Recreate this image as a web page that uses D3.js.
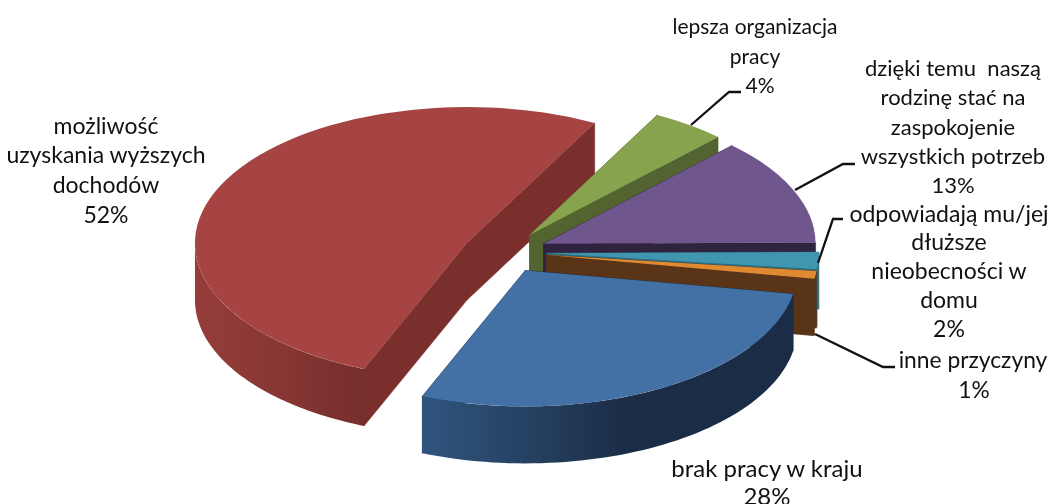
<!DOCTYPE html>
<html lang="pl">
<head>
<meta charset="utf-8">
<title>Wykres kołowy</title>
<script src="https://cdn.jsdelivr.net/npm/d3@7"></script>
<style>
html,body{margin:0;padding:0;background:#fff;overflow:hidden}
svg{display:block;filter:blur(0.45px)}
text{font-family:Lato,"Open Sans",sans-serif;fill:#111;text-anchor:middle}
</style>
</head>
<body>
<svg id="chart" width="1050" height="504"></svg>
<script>
// ---- data (clockwise, starting at the right-hand edge of the blue slice)
const categories = [
  "brak pracy w kraju",
  "możliwość uzyskania wyższych dochodów",
  "lepsza organizacja pracy",
  "dzięki temu naszą rodzinę stać na zaspokojenie wszystkich potrzeb",
  "odpowiadają mu/jej dłuższe nieobecności w domu",
  "inne przyczyny"
];
const values = [28.4, 51.6, 4.4, 12.7, 2.0, 0.9];

// ---- styles
const topColors  = ["#4370a5", "#a54442", "#87a34e", "#6f578d", "#3f96ae", "#df8a30"];
const wallColors = ["#1b2d46", "#7a2f2d", "#536430", "#302340", "#2c6f82", "#593417"];
const outerStops = [
  [["#30557f", 0], ["#223a58", .38], ["#1b2d46", .55], ["#1b2d46", 1]],
  [["#963d3a", 0], ["#873734", .5], ["#762e2c", 1]],
  null, null,
  [["#2f7e94", 0], ["#2f7e94", 1]],
  [["#2f7e94", 0], ["#2f7e94", 1]]
];

// ---- layout
const cx = 505, cy = 252, R = 272, tilt = 0.5, depth = 57, explode = 42;
const startDeg = 100;
const paintOrder = [1, 2, 3, 4, 5, 0];

const labelLayout = [
  {x: 767, pctX: 767, size: 24, ys: [470, 498], lines: ["brak pracy w kraju"], leader: null},
  {x: 106, pctX: 106, size: 23, ys: [127, 156, 186, 216], lines: ["możliwość", "uzyskania wyższych", "dochodów"], leader: null},
  {x: 755, pctX: 760, size: 21, ys: [27, 57, 86], lines: ["lepsza organizacja", "pracy"],
   leader: [[691, 125], [729, 92], [741, 92]]},
  {x: 953, pctX: 953, size: 22, ys: [69, 98, 128, 157, 186], lines: ["dzięki temu  naszą", "rodzinę stać na", "zaspokojenie", "wszystkich potrzeb"],
   leader: [[795, 190], [843, 164], [855, 164]]},
  {x: 949, pctX: 949, size: 23, ys: [215, 243, 272, 301, 330], lines: ["odpowiadają mu/jej", "dłuższe", "nieobecności w", "domu"],
   leader: [[818, 263], [833, 219], [843, 219]]},
  {x: 973, pctX: 974, size: 22.8, ys: [361, 391], lines: ["inne przyczyny"],
   leader: [[815, 334], [883, 367], [895, 367]]}
];

// ---- drawing
const svg = d3.select("#chart");
const defs = svg.append("defs");
const rad = d => d * Math.PI / 180;

const arcs = d3.pie().sort(null)
  .startAngle(rad(startDeg)).endAngle(rad(startDeg) + 2 * Math.PI)(values);
const arcGen = d3.arc().innerRadius(0).outerRadius(R);
const lineGen = d3.line();
const fmt = d3.format(".0f");

paintOrder.forEach(i => {
  const a = arcs[i];
  const mid = (a.startAngle + a.endAngle) / 2;
  const ox = cx + explode * Math.sin(mid);
  const oy = cy - explode * Math.cos(mid) * tilt;
  const pt = ang => [ox + R * Math.sin(ang), oy - R * Math.cos(ang) * tilt];
  const g = svg.append("g").attr("class", "slice");

  // flat inner walls
  [a.startAngle, a.endAngle].forEach(ang => {
    const p = pt(ang);
    const q = [[ox, oy], p, [p[0], p[1] + depth], [ox, oy + depth]];
    g.append("path").attr("d", lineGen(q) + "Z")
      .attr("fill", wallColors[i])
      .attr("stroke", wallColors[i]).attr("stroke-width", 0.6);
  });

  // curved outer wall: only the part that faces the viewer (90°..270°)
  const spans = [[a.startAngle, a.endAngle], [a.startAngle + 2 * Math.PI, a.endAngle + 2 * Math.PI]];
  spans.forEach(([s0, s1]) => {
    const from = Math.max(s0, Math.PI / 2), to = Math.min(s1, 1.5 * Math.PI);
    if (from >= to || !outerStops[i]) return;
    const angs = d3.range(0, 61).map(k => from + (to - from) * k / 60);
    const upper = angs.map(pt);
    const lower = upper.map(p => [p[0], p[1] + depth]).reverse();
    const xs = upper.map(p => p[0]);
    const id = "wall" + i;
    const grad = defs.append("linearGradient").attr("id", id)
      .attr("gradientUnits", "userSpaceOnUse")
      .attr("x1", d3.min(xs)).attr("x2", d3.max(xs)).attr("y1", 0).attr("y2", 0);
    outerStops[i].forEach(([c, o]) => grad.append("stop").attr("offset", o).attr("stop-color", c));
    g.append("path").attr("d", lineGen(upper.concat(lower)) + "Z").attr("fill", `url(#${id})`);
  });

  // top face
  g.append("path")
    .attr("d", arcGen(a))
    .attr("transform", `translate(${ox},${oy}) scale(1,${tilt})`)
    .attr("fill", topColors[i]);
});

// leaders and labels
labelLayout.forEach((l, i) => {
  if (l.leader) {
    svg.append("path").attr("d", lineGen(l.leader))
      .attr("fill", "none").attr("stroke", "#111").attr("stroke-width", 2.3);
  }
  const rows = l.lines.concat(fmt(values[i]) + "%");
  rows.forEach((t, k) => {
    svg.append("text").attr("x", k === l.lines.length ? l.pctX : l.x).attr("y", l.ys[k] + 7)
      .attr("font-size", l.size).attr("xml:space", "preserve").text(t);
  });
});
</script>
</body>
</html>
